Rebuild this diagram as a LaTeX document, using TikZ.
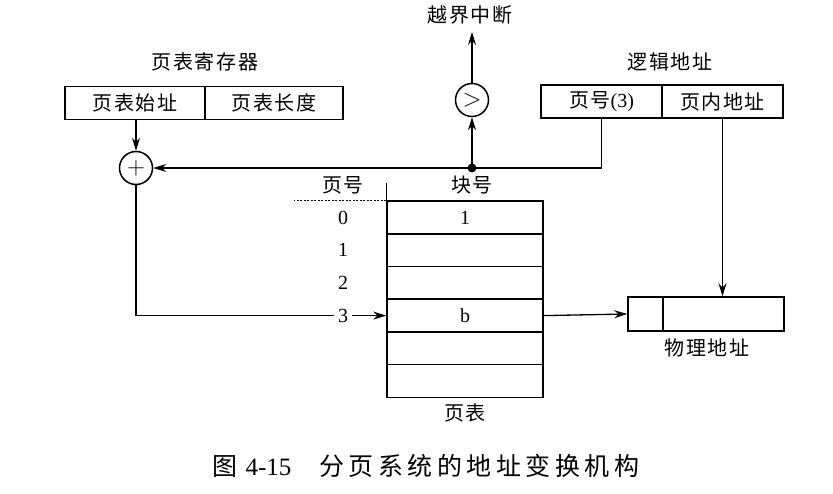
\documentclass[tikz,border=0pt]{standalone}
\usepackage{fontspec}
\setmainfont{Liberation Serif}
\newfontfamily\cjk[LetterSpace=8]{Noto Sans CJK SC}
\newfontfamily\capcjk[LetterSpace=18]{Noto Sans CJK SC}
\usetikzlibrary{arrows.meta}
\begin{document}
\begin{tikzpicture}[x=1pt,y=-1pt,
  every node/.style={font=\fontsize{20}{22}\selectfont},
  cell/.style={draw,line width=1.5pt,inner sep=0pt,minimum height=33pt},
  ring/.style={draw,circle,line width=1.5pt,inner sep=0pt,minimum size=33pt,font=\fontsize{28}{28}\selectfont},
  wire/.style={line width=1.3pt},
  arr/.style={wire,-{Stealth[length=13pt,width=8pt]}},
  lbl/.style={inner sep=1pt}]
\useasboundingbox (0,0) rectangle (833,494);
% page table register
\node[lbl] (regt) at (205,62) {\cjk 页表寄存器};
\node[cell,minimum width=140pt] (ra) at (135,103) {\cjk 页表始址};
\node[cell,minimum width=138pt] (rb) at (274,103) {\cjk 页表长度};
% adder
\node[ring] (plus) at (136,168) {$+$};
% comparator
\node[ring] (gt) at (472,100) {$>$};
\coordinate (top) at (472,32);
\node[lbl] (intr) at (470,15) {\cjk 越界中断};
\fill (472,168) circle (4.5pt);
\coordinate (j) at (472,168);
% logical address
\node[lbl] (lat) at (670,62) {\cjk 逻辑地址};
\node[cell,minimum width=121pt] (la) at (601.5,101.5) {{\cjk 页号}(3)};
\node[cell,minimum width=121pt] (lb) at (722.5,101.5) {\cjk 页内地址};
% physical address
\node[cell,minimum width=35pt,minimum height=34pt] (pa) at (645.5,314) {};
\node[cell,minimum width=121pt,minimum height=34pt] (pb) at (723.5,314) {};
\node[lbl] (pat) at (707,348) {\cjk 物理地址};
% page table
\foreach \i/\t in {0/1,1/,2/,3/b,4/,5/} {
  \node[cell,minimum width=156pt,minimum height=32.7pt] (r\i) at (465,{217.5+32.7*\i}) {\t};
}
\node[lbl] (ph) at (343,185) {\cjk 页号};
\node[lbl] (bh) at (472,185) {\cjk 块号};
\foreach \i in {0,1,2,3} {
  \node[lbl,inner sep=4pt] (l\i) at (343,{217.5+32.7*\i}) {\i};
}
\node[lbl] (ptt) at (465,413) {\cjk 页表};
\draw[wire] (r0.north west) -- ++(0,-17);
\draw[wire,line width=1pt,dash pattern=on 2pt off 1.5pt] (r0.north west) -- ++(-92,0);
% connectors
\draw[arr] (plus |- ra.south) -- (plus.north);
\draw[arr] (j) -- (plus.east);
\draw[arr] (j) -- (gt.south);
\draw[arr] (gt.north) -- (top);
\draw[wire] (la.south) |- (j);
\draw[arr] (lb.south) -- (lb.south |- pb.north);
\draw[wire] (plus.south) |- (l3.west);
\draw[arr] (l3.east) -- (r3.west);
\draw[arr] (r3.east) -- (pa.west);
% caption
\node[lbl,font=\fontsize{25}{27}\selectfont] (cap) at (426,466) {{\capcjk 图}\hspace{8pt}4-15\hspace{28pt}{\capcjk 分页系统的地址变换机构}};
\end{tikzpicture}
\end{document}
